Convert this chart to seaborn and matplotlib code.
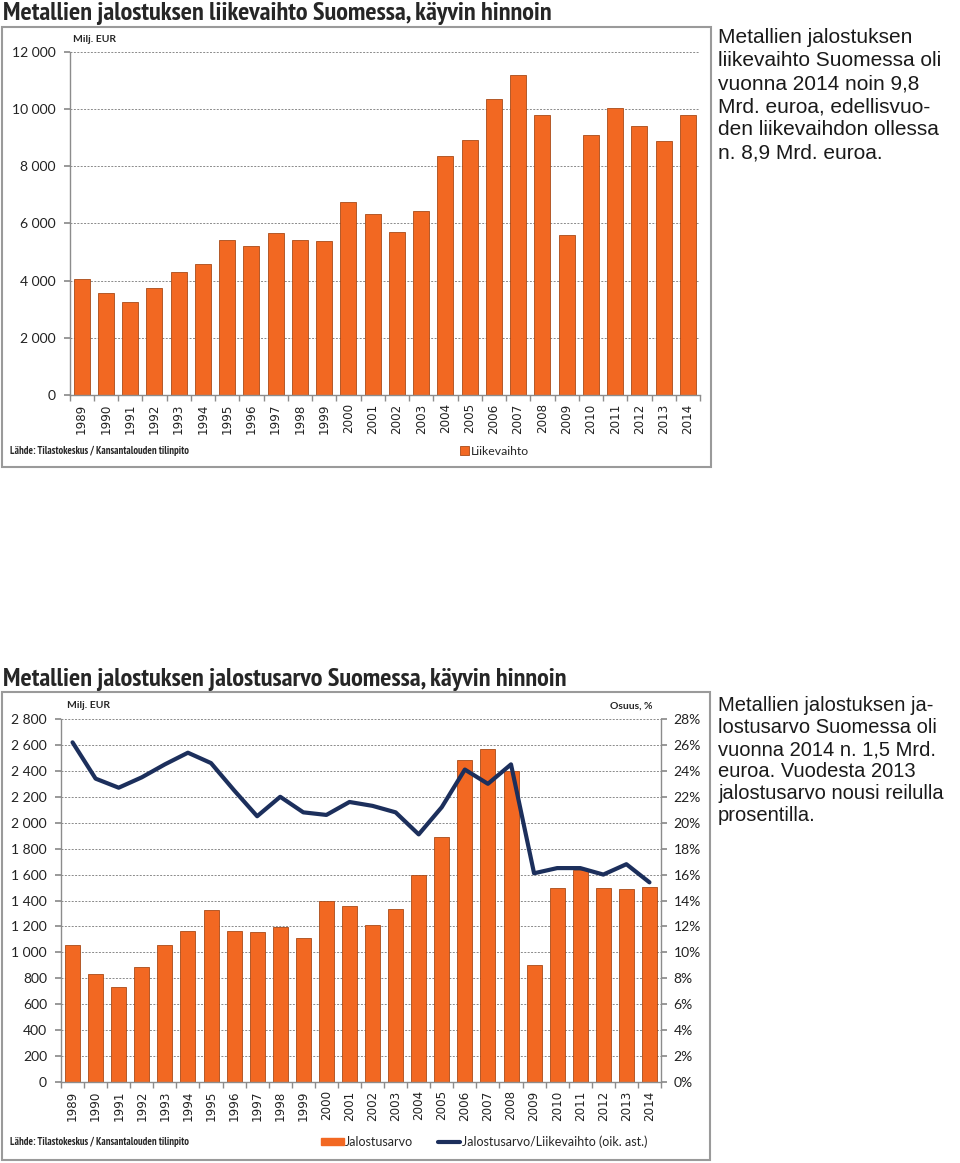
import numpy as np
import matplotlib
matplotlib.use('Agg')
import matplotlib.pyplot as plt
import seaborn as sns
from matplotlib.patches import Rectangle
from matplotlib.lines import Line2D
from matplotlib.ticker import FuncFormatter

### DATA ###
years = [str(y) for y in range(1989, 2015)]
liikevaihto = [4050, 3570, 3240, 3740, 4310, 4580, 5420, 5200, 5660, 5420, 5380, 6760, 6310,
               5690, 6440, 8370, 8930, 10340, 11180, 9800, 5610, 9100, 10020, 9390, 8880, 9780]
jalostusarvo = [1060, 830, 735, 884, 1058, 1166, 1327, 1166, 1158, 1194, 1112, 1394, 1360,
                1212, 1337, 1599, 1891, 2485, 2567, 2400, 902, 1499, 1635, 1499, 1486, 1501]
osuus = [26.2, 23.4, 22.7, 23.5, 24.5, 25.4, 24.6, 22.5, 20.5, 22.0, 20.8, 20.6, 21.6,
         21.3, 20.8, 19.1, 21.2, 24.1, 23.0, 24.5, 16.1, 16.5, 16.5, 16.0, 16.8, 15.4]

title_top = "Metallien jalostuksen liikevaihto Suomessa, käyvin hinnoin"
title_bottom = "Metallien jalostuksen jalostusarvo Suomessa, käyvin hinnoin"
note_top = ("Metallien jalostuksen\nliikevaihto Suomessa oli\nvuonna 2014 noin 9,8\n"
            "Mrd. euroa, edellisvuo-\nden liikevaihdon ollessa\nn. 8,9 Mrd. euroa.")
note_bottom = ("Metallien jalostuksen ja-\nlostusarvo Suomessa oli\nvuonna 2014 n. 1,5 Mrd.\n"
               "euroa. Vuodesta 2013\njalostusarvo nousi reilulla\nprosentilla.")
source = "Lähde: Tilastokeskus / Kansantalouden tilinpito"

### STYLE ###
sns.set_theme(style='white')
plt.rcParams['font.family'] = ['Lato', 'DejaVu Sans']
ORANGE = '#F26822'
EDGE = '#A84A18'
NAVY = '#1C2F5C'
GRID = '#8a8a8a'
SPINE = '#8c8c8c'
NARROW = ['PT Sans Narrow', 'Liberation Sans', 'DejaVu Sans']
ARIAL = ['Liberation Sans', 'DejaVu Sans']

W, H = 960, 1163
def fx(x): return x / W
def fy(y): return 1 - y / H

def space_fmt(v, pos):
    return f"{v:,.0f}".replace(',', ' ')

def style_axis(ax, ymax, ystep):
    ax.set_xlim(-0.5, len(years) - 0.5)
    ax.set_ylim(0, ymax)
    ax.set_yticks(np.arange(0, ymax + 1, ystep))
    ax.yaxis.set_major_formatter(FuncFormatter(space_fmt))
    ax.yaxis.grid(True, linestyle=(0, (2, 1.5)), color=GRID, linewidth=0.7)
    ax.xaxis.grid(False)
    ax.set_axisbelow(True)
    for s in ['top', 'right']:
        ax.spines[s].set_visible(False)
    for s in ['left', 'bottom']:
        ax.spines[s].set_color(SPINE)
        ax.spines[s].set_linewidth(1.0)
    ax.set_xticks(np.arange(len(years)))
    ax.set_xticklabels(years, rotation=90, family='DejaVu Sans', fontsize=8.6, color='#222')
    ax.set_xticks(np.arange(-0.5, len(years)), minor=True)
    ax.tick_params(axis='x', which='major', length=0, pad=6)
    ax.tick_params(axis='x', which='minor', length=4, color=SPINE, direction='out', bottom=True)
    ax.tick_params(axis='y', which='major', length=4, color=SPINE, direction='out', left=True,
                   labelsize=10, pad=6, labelcolor='#222')
    ax.set_xlabel('')
    ax.set_ylabel('')

fig = plt.figure(figsize=(9.6, 11.63), dpi=100)

### TOP CHART ###
ax1 = fig.add_axes([fx(69.5), fy(395), (700 - 69.5) / W, (395 - 51.7) / H])
sns.barplot(x=years, y=liikevaihto, ax=ax1, color=ORANGE, width=0.65, saturation=1,
            edgecolor=EDGE, linewidth=0.6)
style_axis(ax1, 12000, 2000)

fig.add_artist(Rectangle((fx(2), fy(467)), (711 - 2) / W, (467 - 27) / H, transform=fig.transFigure,
                         fill=False, edgecolor='#9a9a9a', linewidth=1.5))
fig.text(fx(3), fy(20), title_top, fontsize=19, fontweight='bold', family=NARROW, va='baseline')
fig.text(fx(73), fy(40), "Milj. EUR", fontsize=7.5, fontweight='bold', va='center')
fig.text(fx(10), fy(451), source, fontsize=7.6, fontweight='bold', family=NARROW, va='center')
fig.text(fx(718), fy(28), note_top, fontsize=15.0, family=ARIAL,
         va='top', linespacing=1.27, color='#1a1a1a')
fig.legend(handles=[Rectangle((0, 0), 1, 1, facecolor=ORANGE, edgecolor=EDGE, linewidth=0.6)],
           labels=['Liikevaihto'], loc='center left', bbox_to_anchor=(fx(460), fy(451)),
           frameon=False, fontsize=8.8, handlelength=0.7, handleheight=0.7, handletextpad=0.2,
           borderpad=0, borderaxespad=0)

### BOTTOM CHART ###
ax2 = fig.add_axes([fx(61), fy(1082), 600 / W, (1082 - 719) / H])
sns.barplot(x=years, y=jalostusarvo, ax=ax2, color=ORANGE, width=0.65, saturation=1,
            edgecolor=EDGE, linewidth=0.6)
style_axis(ax2, 2800, 200)

ax3 = ax2.twinx()
sns.lineplot(x=np.arange(len(years)), y=osuus, ax=ax3, color=NAVY, linewidth=3)
ax3.set_ylim(0, 28)
ax3.set_yticks(np.arange(0, 29, 2))
ax3.yaxis.set_major_formatter(FuncFormatter(lambda v, p: f"{v:.0f}%"))
ax3.grid(False)
for s in ['top', 'left', 'bottom']:
    ax3.spines[s].set_visible(False)
ax3.spines['right'].set_color(SPINE)
ax3.spines['right'].set_linewidth(1.0)
ax3.tick_params(axis='y', length=4, color=SPINE, direction='out', right=True,
                labelsize=10, pad=5, labelcolor='#222')
ax3.set_ylabel('')
ax3.set_xlim(-0.5, len(years) - 0.5)

fig.add_artist(Rectangle((fx(2), fy(1160)), (710 - 2) / W, (1160 - 692) / H, transform=fig.transFigure,
                         fill=False, edgecolor='#9a9a9a', linewidth=1.5))
fig.text(fx(3), fy(686), title_bottom, fontsize=19, fontweight='bold', family=NARROW, va='baseline')
fig.text(fx(67), fy(706), "Milj. EUR", fontsize=7.5, fontweight='bold', va='center')
fig.text(fx(652), fy(706), "Osuus, %", fontsize=7.5, fontweight='bold', va='center', ha='right')
fig.text(fx(10), fy(1142), source, fontsize=7.6, fontweight='bold', family=NARROW, va='center')
fig.text(fx(718), fy(696), note_bottom, fontsize=14.5, family=ARIAL,
         va='top', linespacing=1.2, color='#1a1a1a')
fig.legend(handles=[Rectangle((0, 0), 1, 1, facecolor=ORANGE, edgecolor=ORANGE),
                    Line2D([0], [0], color=NAVY, linewidth=3)],
           labels=['Jalostusarvo', 'Jalostusarvo/Liikevaihto (oik. ast.)'], ncol=2,
           loc='center left', bbox_to_anchor=(fx(321), fy(1142)), frameon=False, fontsize=9,
           handlelength=1.8, handleheight=0.45, handletextpad=0.1, columnspacing=2.0,
           borderpad=0, borderaxespad=0)

fig.savefig('out.png', dpi=100)
